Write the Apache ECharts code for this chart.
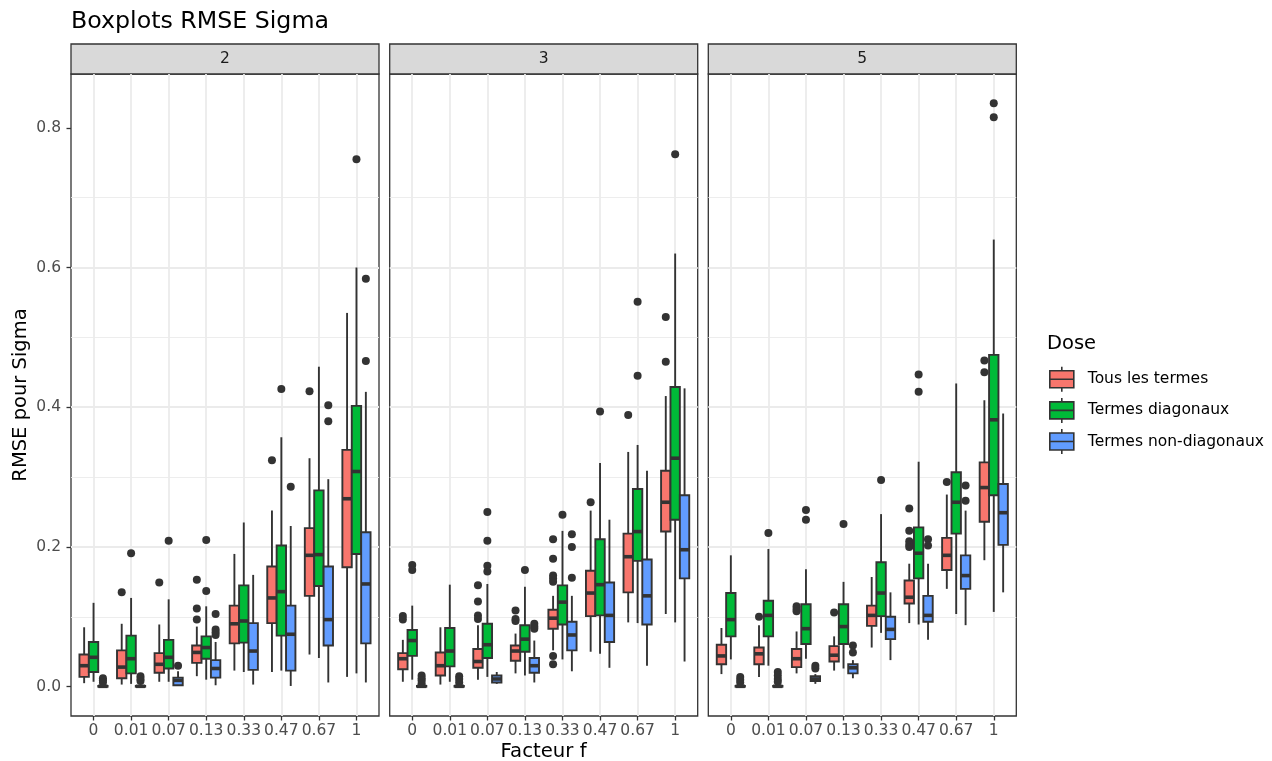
<!DOCTYPE html>
<html><head><meta charset="utf-8">
<script src="https://cdn.jsdelivr.net/npm/echarts@6/dist/echarts.min.js"></script>
<style>html,body{margin:0;padding:0;background:#fff;}#c{width:1272px;height:761px;}</style>
</head><body><div id="c"></div>
<script>
// ---------------- DATA ----------------
const facets = ['2', '3', '5'];
const categories = ['0', '0.01', '0.07', '0.13', '0.33', '0.47', '0.67', '1'];
const seriesNames = ['Tous les termes', 'Termes diagonaux', 'Termes non-diagonaux'];
const yTickValues = [0, 0.2, 0.4, 0.6, 0.8];
const xTitle = 'Facteur f';
const yTitle = 'RMSE pour Sigma';
const chartTitle = 'Boxplots RMSE Sigma';
const legendTitle = 'Dose';

// each box: [lower whisker, Q1, median, Q3, upper whisker], one per category
const f2_tous = [[0.005,0.014,0.030,0.046,0.085],[0.003,0.012,0.028,0.052,0.090],[0.007,0.020,0.032,0.048,0.089],[0.015,0.034,0.049,0.059,0.086],[0.023,0.062,0.090,0.116,0.190],[0.021,0.091,0.127,0.172,0.252],[0.046,0.130,0.188,0.227,0.327],[0.014,0.171,0.269,0.339,0.535]];
const f2_diag = [[0.007,0.021,0.042,0.064,0.120],[0.004,0.019,0.040,0.073,0.127],[0.007,0.026,0.042,0.067,0.125],[0.010,0.040,0.056,0.072,0.115],[0.021,0.063,0.094,0.145,0.235],[0.023,0.073,0.136,0.202,0.357],[0.041,0.144,0.189,0.281,0.458],[0.019,0.190,0.308,0.402,0.600]];
const f2_nondiag = [[0,0,0.0005,0.001,0.003],[0,0,0.0005,0.001,0.003],[0.001,0.002,0.009,0.013,0.022],[0.002,0.013,0.026,0.038,0.064],[0.003,0.024,0.051,0.091,0.160],[0.001,0.023,0.075,0.116,0.230],[0.006,0.059,0.096,0.172,0.297],[0.006,0.062,0.147,0.221,0.422]];
const f3_tous = [[0.007,0.025,0.040,0.048,0.067],[0.003,0.016,0.030,0.049,0.085],[0.010,0.027,0.036,0.054,0.088],[0.019,0.037,0.051,0.059,0.076],[0.052,0.083,0.098,0.110,0.130],[0.050,0.101,0.134,0.166,0.252],[0.092,0.135,0.186,0.219,0.336],[0.104,0.222,0.264,0.309,0.416]];
const f3_diag = [[0.010,0.044,0.066,0.081,0.116],[0.007,0.029,0.051,0.084,0.146],[0.014,0.041,0.060,0.090,0.147],[0.016,0.050,0.068,0.088,0.143],[0.039,0.089,0.121,0.145,0.223],[0.047,0.102,0.146,0.211,0.320],[0.091,0.180,0.222,0.283,0.346],[0.092,0.239,0.327,0.429,0.620]];
const f3_nondiag = [[0,0,0.0005,0.001,0.003],[0,0,0.0005,0.001,0.003],[0.004,0.006,0.011,0.016,0.021],[0.006,0.020,0.030,0.041,0.066],[0.022,0.052,0.074,0.093,0.130],[0.027,0.064,0.102,0.149,0.239],[0.030,0.089,0.130,0.182,0.309],[0.036,0.155,0.196,0.274,0.427]];
const f5_tous = [[0.018,0.032,0.044,0.060,0.084],[0.014,0.032,0.047,0.056,0.088],[0.019,0.028,0.040,0.054,0.079],[0.023,0.036,0.045,0.058,0.072],[0.056,0.087,0.102,0.116,0.157],[0.091,0.119,0.128,0.152,0.176],[0.140,0.167,0.188,0.213,0.275],[0.181,0.236,0.285,0.321,0.410]];
const f5_diag = [[0.039,0.072,0.096,0.134,0.188],[0.030,0.072,0.102,0.123,0.197],[0.040,0.061,0.083,0.118,0.168],[0.026,0.061,0.086,0.118,0.150],[0.077,0.101,0.134,0.178,0.247],[0.089,0.155,0.191,0.228,0.322],[0.104,0.219,0.264,0.307,0.434],[0.107,0.274,0.382,0.475,0.640]];
const f5_nondiag = [[0,0,0.0005,0.001,0.003],[0,0,0.0005,0.001,0.003],[0.004,0.008,0.011,0.015,0.018],[0.012,0.019,0.027,0.032,0.038],[0.038,0.068,0.082,0.100,0.135],[0.067,0.093,0.102,0.130,0.176],[0.088,0.140,0.159,0.188,0.252],[0.135,0.203,0.249,0.290,0.391]];

// outliers: [category index, value]
const f2_tous_out = [[1,0.135],[2,0.149],[3,0.153],[3,0.112],[3,0.096],[5,0.324],[6,0.423]];
const f2_diag_out = [[1,0.191],[2,0.209],[3,0.210],[3,0.137],[5,0.426],[7,0.755]];
const f2_nondiag_out = [[0,0.012],[0,0.009],[0,0.006],[1,0.015],[1,0.011],[1,0.008],[2,0.030],[3,0.104],[3,0.082],[3,0.078],[3,0.074],[5,0.286],[6,0.403],[6,0.380],[7,0.584],[7,0.466]];
const f3_tous_out = [[0,0.101],[0,0.096],[2,0.145],[2,0.122],[2,0.102],[2,0.097],[3,0.109],[3,0.097],[3,0.094],[4,0.211],[4,0.183],[4,0.159],[4,0.155],[4,0.150],[4,0.044],[4,0.032],[5,0.264],[6,0.389],[7,0.529],[7,0.465]];
const f3_diag_out = [[0,0.174],[0,0.167],[2,0.250],[2,0.209],[2,0.173],[2,0.165],[3,0.167],[4,0.246],[5,0.394],[6,0.551],[6,0.445],[7,0.762]];
const f3_nondiag_out = [[0,0.016],[0,0.012],[0,0.009],[0,0.005],[1,0.015],[1,0.011],[1,0.006],[3,0.090],[3,0.086],[3,0.083],[4,0.218],[4,0.200],[4,0.156]];
const f5_tous_out = [[1,0.100],[2,0.115],[2,0.111],[2,0.108],[3,0.106],[5,0.255],[5,0.223],[5,0.208],[5,0.203],[5,0.200],[6,0.293],[7,0.467],[7,0.450]];
const f5_diag_out = [[1,0.220],[2,0.253],[2,0.239],[3,0.233],[4,0.296],[5,0.447],[5,0.422],[7,0.835],[7,0.815]];
const f5_nondiag_out = [[0,0.014],[0,0.010],[0,0.006],[1,0.021],[1,0.016],[1,0.011],[1,0.007],[2,0.030],[2,0.026],[3,0.059],[3,0.049],[5,0.211],[5,0.202],[6,0.288],[6,0.266]];

const boxes = [[f2_tous, f2_diag, f2_nondiag], [f3_tous, f3_diag, f3_nondiag], [f5_tous, f5_diag, f5_nondiag]];
const outliers = [[f2_tous_out, f2_diag_out, f2_nondiag_out], [f3_tous_out, f3_diag_out, f3_nondiag_out], [f5_tous_out, f5_diag_out, f5_nondiag_out]];

// ---------------- STYLE / LAYOUT ----------------
const colors = ['#F8766D', '#00BA38', '#619CFF'];
const dodge = [-0.25, 0, 0.25];
const halfBox = 0.125;
const FONT = 'DejaVu Sans';
const panelLeft = [71, 389.7, 708.3];
const panelW = 308;
const panelTop = 74, panelH = 642;
const stripH = 30;
const lineCol = '#333333';
const gridCol = '#EBEBEB';
const SMALL = 15.5;

function boxRender(s) {
  return function (params, api) {
    const c = api.value(0);
    const xc = api.coord([c + dodge[s], 0])[0];
    const xl = api.coord([c + dodge[s] - halfBox, 0])[0];
    const xr = api.coord([c + dodge[s] + halfBox, 0])[0];
    const y = k => api.coord([c, api.value(k)])[1];
    const lw = 1.9;
    return {
      type: 'group',
      children: [
        { type: 'line', shape: { x1: xc, y1: y(5), x2: xc, y2: y(4) }, style: { stroke: lineCol, lineWidth: lw } },
        { type: 'line', shape: { x1: xc, y1: y(2), x2: xc, y2: y(1) }, style: { stroke: lineCol, lineWidth: lw } },
        { type: 'rect', shape: { x: xl, y: y(4), width: xr - xl, height: Math.max(y(2) - y(4), 0.5) }, style: { fill: colors[s], stroke: lineCol, lineWidth: lw } },
        { type: 'line', shape: { x1: xl, y1: y(3), x2: xr, y2: y(3) }, style: { stroke: lineCol, lineWidth: 3.6 } }
      ]
    };
  };
}
function outRender(s) {
  return function (params, api) {
    const p = api.coord([api.value(0) + dodge[s], api.value(1)]);
    return { type: 'circle', shape: { cx: p[0], cy: p[1], r: 4 }, style: { fill: lineCol } };
  };
}

const grids = [], xAxes = [], yAxes = [], series = [], graphics = [];
facets.forEach((f, fi) => {
  grids.push({ left: panelLeft[fi], top: panelTop, width: panelW, height: panelH, show: true, backgroundColor: '#fff', borderColor: lineCol, borderWidth: 1.3, containLabel: false });
  xAxes.push({
    type: 'value', gridIndex: fi, min: -0.6, max: categories.length - 1 + 0.6, splitNumber: 8,
    axisLine: { show: false, onZero: false },
    axisTick: { show: true, length: 4.5, lineStyle: { color: lineCol, width: 1.3 } },
    axisLabel: { show: true, margin: 7, color: '#4D4D4D', fontSize: SMALL, fontFamily: FONT, showMinLabel: false, showMaxLabel: false,
      formatter: v => { const i = Math.round(v); return (Math.abs(v - i) < 1e-6 && categories[i] !== undefined) ? categories[i] : ''; } },
    splitLine: { show: true, showMinLine: false, showMaxLine: false, lineStyle: { color: gridCol, width: 1.8 } }
  });
  yAxes.push({
    type: 'value', gridIndex: fi, min: -0.042, max: 0.877, splitNumber: 5,
    axisLine: { show: false, onZero: false },
    axisTick: { show: fi === 0, length: 4.5, lineStyle: { color: lineCol, width: 1.3 }, customValues: yTickValues },
    axisLabel: { show: fi === 0, margin: 10, color: '#4D4D4D', fontSize: SMALL, fontFamily: FONT, customValues: yTickValues, formatter: v => v.toFixed(1) },
    splitLine: { show: true, showMinLine: false, showMaxLine: false, lineStyle: { color: gridCol, width: 1.8 } },
    minorTick: { show: false, splitNumber: 2 },
    minorSplitLine: { show: true, lineStyle: { color: gridCol, width: 0.9 } }
  });
  seriesNames.forEach((name, s) => {
    series.push({
      type: 'custom', name: name, xAxisIndex: fi, yAxisIndex: fi, z: 3,
      itemStyle: { color: colors[s] },
      encode: { x: 0, y: [1, 2, 3, 4, 5] },
      data: boxes[fi][s].map((b, i) => [i].concat(b)),
      renderItem: boxRender(s)
    });
    series.push({
      type: 'custom', name: name, xAxisIndex: fi, yAxisIndex: fi, z: 4,
      itemStyle: { color: colors[s] },
      encode: { x: 0, y: 1 },
      data: outliers[fi][s],
      renderItem: outRender(s)
    });
  });
  graphics.push({ type: 'rect', shape: { x: panelLeft[fi], y: panelTop - stripH, width: panelW, height: stripH }, style: { fill: '#D9D9D9', stroke: lineCol, lineWidth: 1.3 } });
  graphics.push({ type: 'text', x: panelLeft[fi] + panelW / 2, y: panelTop - stripH / 2, style: { text: f, fontSize: SMALL, fontFamily: FONT, fill: '#1A1A1A', textAlign: 'center', textVerticalAlign: 'middle' } });
});

graphics.push({ type: 'text', x: 71, y: 22, style: { text: chartTitle, fontSize: 23.7, fontFamily: FONT, fill: '#000', textAlign: 'left', textVerticalAlign: 'middle' } });
graphics.push({ type: 'text', x: 543.6, y: 752, style: { text: xTitle, fontSize: 19.7, fontFamily: FONT, fill: '#000', textAlign: 'center', textVerticalAlign: 'middle' } });
graphics.push({ type: 'text', x: 21, y: 395, rotation: Math.PI / 2, style: { text: yTitle, fontSize: 19.5, fontFamily: FONT, fill: '#000', textAlign: 'center', textVerticalAlign: 'middle' } });
graphics.push({ type: 'text', x: 1047, y: 344, style: { text: legendTitle, fontSize: 19.5, fontFamily: FONT, fill: '#000', textAlign: 'left', textVerticalAlign: 'middle' } });

const option = {
  animation: false,
  backgroundColor: '#fff',
  textStyle: { fontFamily: FONT },
  grid: grids,
  xAxis: xAxes,
  yAxis: yAxes,
  legend: {
    orient: 'vertical', left: 1049, top: 366, padding: 0,
    itemWidth: 24, itemHeight: 25, itemGap: 4.5, selectedMode: false,
    data: seriesNames.map((n, i) => ({
      name: n,
      icon: 'path://M0,4H24V21H0Z M0,12.5H24 M12,0V4 M12,21V25',
      itemStyle: { color: colors[i], borderColor: lineCol, borderWidth: 1.6 }
    })),
    textStyle: { fontSize: 15.5, color: '#000', fontFamily: FONT, padding: [0, 0, 0, 9] }
  },
  graphic: graphics,
  series: series
};
const chart = echarts.init(document.getElementById('c'), null, { renderer: 'canvas' });
chart.setOption(option);
</script></body></html>
